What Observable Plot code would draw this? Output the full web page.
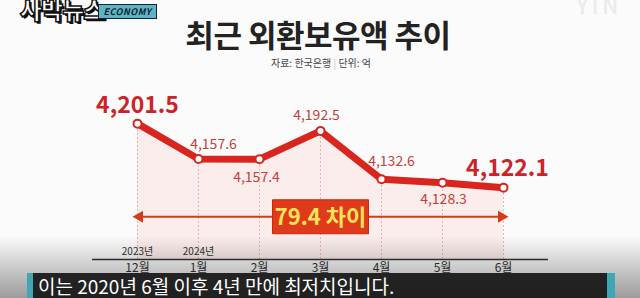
<!DOCTYPE html>
<html><head><meta charset="utf-8">
<script src="https://cdn.jsdelivr.net/npm/d3@7"></script>
<script src="https://cdn.jsdelivr.net/npm/@observablehq/plot@0.6"></script>
<style>
  html,body{margin:0;padding:0;background:#fbfbfb;}
  #root{position:relative;width:640px;height:298px;overflow:hidden;background:#fbfbfb;font-family:"Noto Sans CJK KR","Noto Sans",sans-serif;}
  .abs{position:absolute;}
  #title{left:0;top:18px;width:636px;text-align:center;font-size:31px;font-weight:700;color:#222;line-height:1;letter-spacing:-0.5px;}
  #sub{left:0;top:57px;width:642px;text-align:center;font-size:10px;color:#444;line-height:12px;}
  #chart{left:0;top:80px;}
  #shade{left:0;top:236px;width:640px;height:62px;background:linear-gradient(to bottom,rgba(0,0,0,0),rgba(0,0,0,0.38));}
  #band{left:27px;top:273px;width:588px;height:25px;background:rgba(22,22,22,0.92);}
  #band .l{position:absolute;left:0;top:0;width:6px;height:25px;background:#3fa6b5;}
  #band .r{position:absolute;right:0;top:0;width:8px;height:25px;background:#3fa6b5;}
  #cap{left:38px;top:273px;font-size:19px;line-height:25px;color:#fff;white-space:nowrap;}
  #logo{left:20px;top:-9px;font-size:24px;font-weight:900;color:#fff;-webkit-text-stroke:1.5px #111;text-shadow:2px 2px 0 #111;letter-spacing:-1px;}
  #eco{left:98px;top:4px;width:57px;height:13px;background:#5db4c4;border:1px solid #123;font-size:9px;font-weight:700;font-style:italic;color:#123;line-height:13px;text-align:center;letter-spacing:0.5px;}
  #ytn{left:576px;top:-12px;font-size:22px;font-weight:700;color:rgba(0,0,0,0.07);}
</style>
</head><body>
<div id="root">
  <div id="logo" class="abs">사박뉴스</div>
  <div id="eco" class="abs">ECONOMY</div>
  <div id="ytn" class="abs">YTN</div>
  <div id="title" class="abs">최근 외환보유액 추이</div>
  <div id="sub" class="abs">자료: 한국은행 <span style="color:#bbb">|</span> 단위: 억</div>
  <div id="chart" class="abs"></div>
  <div id="shade" class="abs"></div>
  <div id="band" class="abs"><div class="l"></div><div class="r"></div></div>
  <div id="cap" class="abs">이는 2020년 6월 이후 4년 만에 최저치입니다.</div>
</div>
<script>
const months = ["12월", "1월", "2월", "3월", "4월", "5월", "6월"];
const values = [4201.5, 4157.6, 4157.4, 4192.5, 4132.6, 4128.3, 4122.1];
const years = ["2023년", "2024년"];
const yearMonths = ["12월", "1월"];

const data = months.map((m, i) => ({month: m, value: values[i]}));
const fmt = d3.format(",.1f");
const diffText = d3.format(".1f")(d3.max(values) - values[values.length - 1]) + " 차이";

const base = 4033;
const arrowLevel = 4086;
const RED = "#d8261f";

const rectSymbol = {
  draw(ctx) {
    ctx.moveTo(-48, -17); ctx.lineTo(48, -17); ctx.lineTo(48, 17); ctx.lineTo(-48, 17); ctx.closePath();
  }
};

const font = '"Noto Sans CJK KR","Noto Sans",sans-serif';
function label(m, opts) {
  return Plot.text(data.filter(d => d.month === m), {
    x: "month", y: "value", text: d => fmt(d.value),
    fontSize: 14, fill: "#c4403a", ...opts
  });
}
function bigLabel(m, opts) {
  return label(m, {fontSize: 23, fontWeight: 700, fill: "#cc2329", ...opts});
}

const chart = Plot.plot({
  width: 640, height: 218,
  marginLeft: 92, marginRight: 92, marginTop: 0, marginBottom: 39,
  style: {background: "transparent", fontFamily: font, color: "#333"},
  x: {type: "point", domain: months, padding: 0.7, label: null},
  y: {domain: [base, 4255], axis: null},
  marks: [
    Plot.areaY(data, {x: "month", y1: base, y2: "value", fill: "#fbe1de", fillOpacity: 0.55}),
    Plot.ruleX(data, {x: "month", y1: base, y2: "value", stroke: "#e8b5b1", strokeDasharray: "2,2", strokeWidth: 1}),
    Plot.ruleY([base], {stroke: "#333", strokeWidth: 1.5}),
    Plot.link([0], {x1: () => months[0], x2: () => months[months.length - 1], y1: () => arrowLevel, y2: () => arrowLevel, stroke: "#d63a1c", strokeWidth: 2}),
    Plot.dot([0], {x: () => months[0], y: () => arrowLevel, symbol: "triangle", r: 4.5, rotate: -90, fill: "#d63a1c", dx: 2}),
    Plot.dot([0], {x: () => months[months.length - 1], y: () => arrowLevel, symbol: "triangle", r: 4.5, rotate: 90, fill: "#d63a1c", dx: -2}),
    Plot.dot([0], {x: () => "3월", y: () => arrowLevel, symbol: rectSymbol, r: 5, fill: "#df3a1b", stroke: "#c42a12", strokeWidth: 1}),
    Plot.text([diffText], {x: () => "3월", y: () => arrowLevel, text: d => d, fill: "#ffe35a", fontSize: 22, fontWeight: 700, dy: 1}),
    Plot.line(data, {x: "month", y: "value", stroke: RED, strokeWidth: 7, strokeLinejoin: "round", strokeLinecap: "round"}),
    Plot.dot(data, {x: "month", y: "value", r: 4, fill: "white", stroke: RED, strokeWidth: 2}),
    bigLabel("12월", {dy: -18}),
    label("1월", {dx: 15, dy: -15}),
    label("2월", {dx: -3, dy: 18}),
    label("3월", {dx: -4, dy: -15}),
    label("4월", {dx: 10, dy: -18}),
    label("5월", {dx: 1, dy: 17}),
    bigLabel("6월", {dx: 4, dy: -19}),
    Plot.text(years, {x: (d, i) => yearMonths[i], y: () => base, text: d => d, fontSize: 10, fill: "#333", dy: -8}),
    Plot.axisX({tickSize: 0, tickPadding: 4, fontSize: 12, fill: "#333", label: null})
  ]
});
document.getElementById("chart").appendChild(chart);
</script>
</body></html>
